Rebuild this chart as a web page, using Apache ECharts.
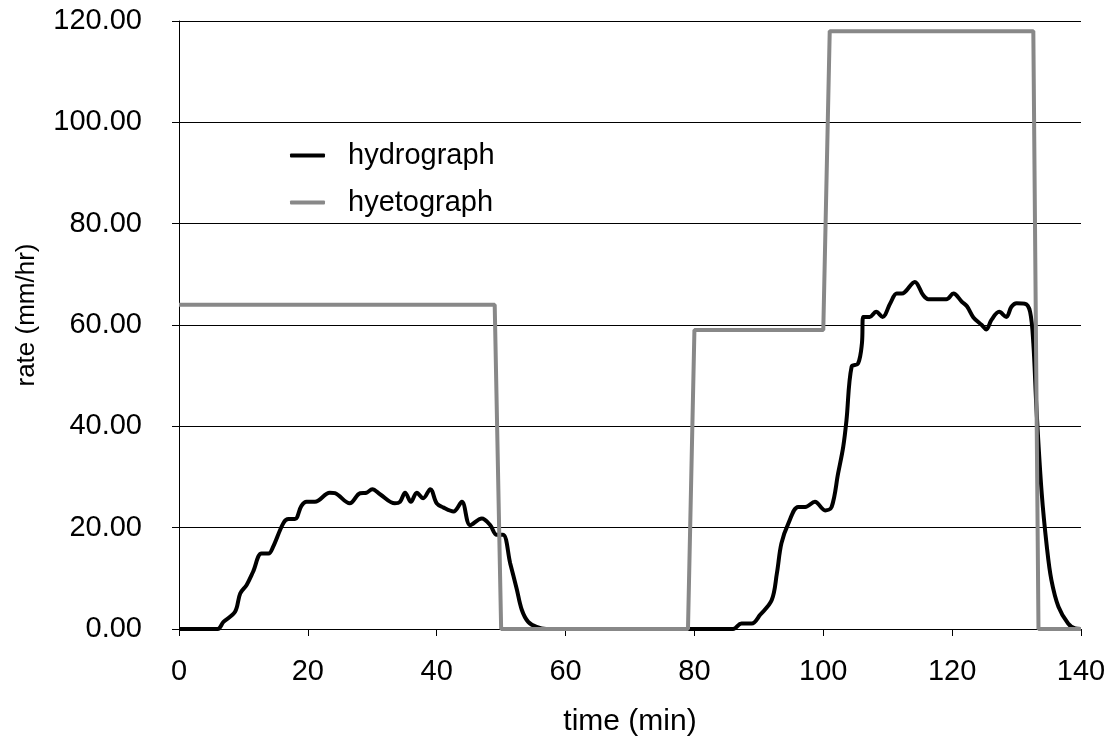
<!DOCTYPE html>
<html><head><meta charset="utf-8">
<script src="https://cdn.jsdelivr.net/npm/echarts@6/dist/echarts.min.js"></script>
<style>html,body{margin:0;padding:0;background:#fff}#c{width:1115px;height:738px}</style>
</head><body><div id="c"></div>
<script>
// hydrograph (time in min, rate in mm/hr)
const hydroTime = [0,3,6,6.9,8.7,9.5,10.5,11.5,12.8,13.9,14.6,16.2,17.0,18.0,19.0,19.8,21.1,23.4,24.2,26.5,28.1,29.1,30.0,31.2,33.5,34.3,35.1,36.0,36.9,37.9,39.0,40.0,41.0,42.6,43.9,45.2,47.0,48.3,49.3,50.3,51.4,52.4,53.2,54.2,55.5,57,60,70,80,86.0,87.3,88.9,90.2,92.0,92.8,93.5,94.6,96.1,97.2,98.7,100.3,101.3,102.3,103.1,103.6,104.4,105.4,106.0,106.2,107.2,108.2,109.2,110.4,111.4,112.2,114.2,115.5,116.3,119.1,120.2,121.5,122.3,123.3,124.6,125.3,126.1,127.3,128.4,129.2,130.0,131.3,132.1,132.6,133.1,133.9,134.7,135.4,136.5,138.0,139.1,140];
const hydroRate = [0,0,0,1.4,3.4,7.0,8.7,11.3,14.9,14.9,16.2,20.9,21.7,21.7,24.3,25.1,25.1,26.9,26.8,24.8,26.8,26.9,27.6,26.6,24.8,25.1,26.9,25.1,26.9,25.8,27.6,24.8,24.0,23.2,25.1,20.5,21.8,20.5,18.6,18.6,13.0,8.0,3.8,1.4,0.4,0,0,0,0,0,1.1,1.1,2.8,5.7,11.0,16.9,20.9,24.1,24.1,25.1,23.4,24.1,30.7,36.0,41.2,51.8,52.4,56.4,61.6,61.6,62.6,61.6,64.3,66.2,66.2,68.5,65.9,65.1,65.1,66.2,64.6,63.7,61.5,60.0,59.1,61.0,62.6,61.6,63.6,64.3,64.2,62.6,56.4,43.2,26.8,16.2,9.7,4.4,1.1,0.1,0];
// hyetograph
const hyetoTime = [0,49,50,79,80,100,101,132.6,133.4,140];
const hyetoRate = [64,64,0,0,59,59,118,118,0,0];
const yTicks = [0,20,40,60,80,100,120];
const xTicks = [0,20,40,60,80,100,120,140];

const FONT = 'Liberation Sans, Arial, sans-serif';
const hydro = hydroTime.map((t,i)=>[t,hydroRate[i]]);
const hyeto = hyetoTime.map((t,i)=>[t,hyetoRate[i]]);
const chart = echarts.init(document.getElementById('c'));
chart.setOption({
  animation:false,
  backgroundColor:'#fff',
  grid:{left:179,right:34,top:21,bottom:109,containLabel:false,outerBoundsMode:'none'},
  legend:{orient:'vertical',left:285,top:136,itemWidth:35,itemHeight:4,itemGap:18,icon:'roundRect',
    textStyle:{fontFamily:FONT,fontSize:29,color:'#000',padding:[0,0,0,18]},
    data:['hydrograph','hyetograph']},
  xAxis:{type:'value',min:0,max:140,interval:20,
    name:'time (min)',nameLocation:'middle',nameGap:78,
    nameTextStyle:{fontFamily:FONT,fontSize:30,color:'#000'},
    axisLine:{onZero:false,lineStyle:{color:'#000',width:1}},
    axisTick:{show:true,inside:false,length:7,lineStyle:{color:'#000'}},
    axisLabel:{margin:28,fontFamily:FONT,fontSize:29,color:'#000',
      formatter:v=>xTicks.includes(v)?String(v):''},
    splitLine:{show:false}},
  yAxis:{type:'value',min:0,max:120,interval:20,
    name:'rate (mm/hr)',nameLocation:'middle',nameGap:139,
    nameTextStyle:{fontFamily:FONT,fontSize:26,color:'#000',padding:[0,0,0,20]},
    axisLine:{show:true,lineStyle:{color:'#000',width:1}},
    axisTick:{show:true,length:7,lineStyle:{color:'#000'}},
    axisLabel:{margin:37,fontFamily:FONT,fontSize:29,color:'#000',
      formatter:v=>yTicks.includes(v)?v.toFixed(2):''},
    splitLine:{show:true,lineStyle:{color:'#000',width:1}}},
  series:[
    {name:'hydrograph',type:'line',data:hydro,showSymbol:false,smooth:0.35,
      lineStyle:{color:'#000',width:4},itemStyle:{color:'#000'},z:3},
    {name:'hyetograph',type:'line',data:hyeto,showSymbol:false,
      lineStyle:{color:'#888',width:4},itemStyle:{color:'#888'},z:4}
  ]
});
</script></body></html>
